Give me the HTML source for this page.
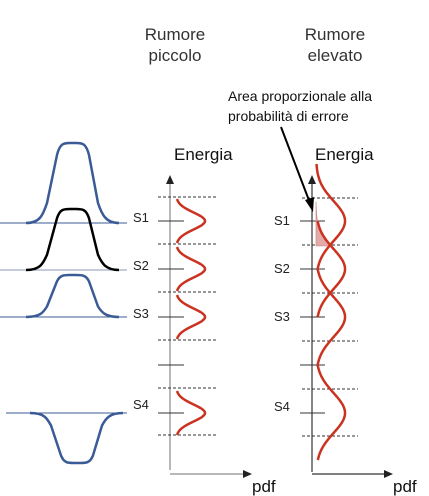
<!DOCTYPE html>
<html><head><meta charset="utf-8"><style>
body{margin:0;background:#fff;}
svg{display:block;font-family:"Liberation Sans",sans-serif;}
</style></head><body>
<svg id="c" width="429" height="496" viewBox="0 0 429 496">
<text x="175" y="40" font-size="17" text-anchor="middle" fill="#333">Rumore</text>
<text x="175" y="61" font-size="17" text-anchor="middle" fill="#333">piccolo</text>
<text x="335" y="40" font-size="17" text-anchor="middle" fill="#333">Rumore</text>
<text x="335" y="61" font-size="17" text-anchor="middle" fill="#333">elevato</text>
<text x="228" y="101" font-size="14" fill="#111">Area proporzionale alla</text>
<text x="228" y="121" font-size="14" fill="#111">probabilità di errore</text>
<text x="174" y="160" font-size="17" fill="#111">Energia</text>
<text x="315" y="160" font-size="17" fill="#111">Energia</text>
<text x="252" y="492" font-size="17" fill="#111">pdf</text>
<text x="393" y="492" font-size="17" fill="#111">pdf</text>
<g id="g"></g>
</svg>
<script>
const levels=[221,269,317,365,413];
const symbolLevels=[0,1,2,4];
const symbolLabels=["S1","S2","S3","S4"];
const pulseBase=[223,270,317,413];
const pulseTop=[143,209,275,463];
const pulseColor=["#3b5b96","#000","#3b5b96","#3b5b96"];
const NS="http://www.w3.org/2000/svg";
const g=document.getElementById('g');
function el(t,a){const e=document.createElementNS(NS,t);for(const k in a)e.setAttribute(k,a[k]);g.appendChild(e);return e;}
const dash=[197,244,292,340,388,435];
const SIG=20;
let e;
e=el('line',{x1:170,y1:470,x2:170,y2:182,stroke:'#b8b8b8','stroke-width':2});

e=el('polygon',{points:'170,175 166,184 174,184',fill:'#222'});

e=el('line',{x1:170,y1:474,x2:245,y2:474,stroke:'#b8b8b8','stroke-width':2});

e=el('polygon',{points:'252,474 243,470 243,478',fill:'#222'});

e=el('line',{x1:312,y1:472,x2:312,y2:182,stroke:'#333','stroke-width':1.2});

e=el('polygon',{points:'312,175 308,184 316,184',fill:'#222'});

e=el('line',{x1:312,y1:474,x2:386,y2:474,stroke:'#333','stroke-width':1.2});

e=el('polygon',{points:'393,474 384,470 384,478',fill:'#222'});

dash.forEach((y,i)=>{
 e=el('line',{x1:158,y1:y,x2:218,y2:y,stroke:'#333','stroke-dasharray':'3,2','stroke-width':1});
 
 e=el('line',{x1:302,y1:y+1,x2:358,y2:y+1,stroke:'#333','stroke-dasharray':'3,2','stroke-width':1});
 
});
levels.forEach(y=>{
 e=el('line',{x1:158,y1:y,x2:184,y2:y,stroke:'#333','stroke-width':1});
 
 e=el('line',{x1:300,y1:y,x2:325,y2:y,stroke:'#333','stroke-width':1});
 
});
let sp='M316,246';
for(let y=246;y>=202;y-=2){const d=y-269;sp+=' L'+(316+29*Math.exp(-d*d/(2*SIG*SIG))).toFixed(1)+','+y;}
sp+=' L316,202 Z';
e=el('path',{d:sp,fill:'#e4a9a9',stroke:'#c98080','stroke-width':0.6});

symbolLevels.forEach((li,i)=>{
 const c=levels[li];
 let p='';
 for(let d=-22;d<=22;d++){const x=176+29*Math.exp(-d*d/(2*8.5*8.5));p+=(d==-22?'M':'L')+x.toFixed(1)+','+(c+d)+' ';}
 e=el('path',{d:p,fill:'none',stroke:'#c9331f','stroke-width':2.5});
 
 p='';
 const lo=i==0?-57:-48,hi=i==3?47:48;
 for(let d=lo;d<=hi;d++){const x=316+29*Math.exp(-d*d/(2*SIG*SIG));p+=(d==lo?'M':'L')+x.toFixed(1)+','+(c+d)+' ';}
 e=el('path',{d:p,fill:'none',stroke:'#c9331f','stroke-width':2.5});
 
 const t=el('text',{x:133,y:c+(i==3?-4:1),'font-size':13,fill:'#222'});t.textContent=symbolLabels[i];
 
 const t2=el('text',{x:274,y:c+(i==3?-2:4),'font-size':13,fill:'#222'});t2.textContent=symbolLabels[i];
 
 const b=pulseBase[i],tp=pulseTop[i],h=tp-b;
 const lx0=i==3?6:0;
 e=el('line',{x1:lx0,y1:b,x2:127,y2:b,stroke:i==1?'#8a9ab8':'#3b5b96','stroke-width':1});
 
 const o=i==3?4:0,Y=f=>(b+h*f).toFixed(1);
 const d='M'+(26+o)+','+b+' C'+(40+o)+','+b+' '+(43+o)+','+Y(0.1)+' '+(47+o)+','+Y(0.25)+' L'+(57+o)+','+Y(0.85)+' C'+(60+o)+','+Y(1.0)+' '+(64+o)+','+Y(1)+' '+(70+o)+','+Y(1)+' L'+(76+o)+','+Y(1)+' C'+(82+o)+','+Y(1)+' '+(86+o)+','+Y(1.0)+' '+(89+o)+','+Y(0.85)+' L'+(98+o)+','+Y(0.25)+' C'+(102+o)+','+Y(0.1)+' '+(106+o)+','+b+' '+(119+o)+','+b;
 e=el('path',{d:d,fill:'none',stroke:pulseColor[i],'stroke-width':2.5});
 
});
e=el('line',{x1:281,y1:127,x2:310,y2:203,stroke:'#000','stroke-width':2});

e=el('polygon',{points:'313,212 305,200 314,197',fill:'#000'});

</script>
</body></html>
